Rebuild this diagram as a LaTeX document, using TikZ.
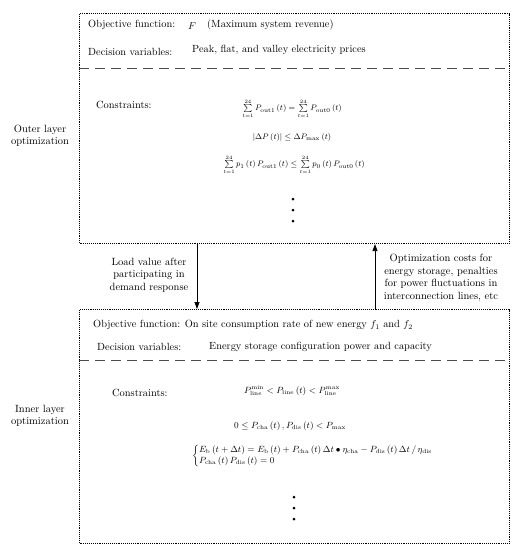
\documentclass[tikz,border=0pt]{standalone}
\usepackage{amsmath,amssymb}
\usetikzlibrary{arrows.meta}
\newcommand{\tsum}{\sum\limits_{\scriptscriptstyle t=1}^{\scriptscriptstyle 24}}
\begin{document}
\begin{tikzpicture}[x=1pt,y=-1pt,
  layerbox/.style={draw, line width=1.1pt, dash pattern=on 1pt off 0.9pt, inner sep=0pt, anchor=north west},
  sep/.style={draw=black!70, line width=1pt, dash pattern=on 10pt off 6pt},
  lbl/.style={inner sep=0pt, anchor=west, font=\fontsize{10.4}{12}\selectfont},
  eqn/.style={inner sep=0pt, font=\small},
  oeqn/.style={inner sep=0pt, font=\footnotesize},
  side/.style={inner sep=0pt, align=center, font=\fontsize{10.5}{12.5}\selectfont},
  flow/.style={-{Triangle[length=7pt,width=5pt]}, line width=0.8pt},
  dotmark/.style={circle, fill=black, inner sep=0pt, minimum size=3pt}]
\useasboundingbox (0,0) rectangle (519,550);
\node[layerbox, minimum width=430pt, minimum height=230pt] (outer) at (79,13) {};
\node[layerbox, minimum width=430pt, minimum height=234pt] (inner) at (79,309) {};
\coordinate (sepO) at (0,68);
\coordinate (sepI) at (0,360);
\draw[sep] (outer.west |- sepO) -- (outer.east |- sepO);
\draw[sep] (inner.west |- sepI) -- (inner.east |- sepI);
% outer layer content
\node[lbl] (ofun) at (88,25) {Objective function:};
\node[lbl] (oF) at (188,26) {$F$};
\node[lbl] (orev) at (207,25) {(Maximum system revenue)};
\node[lbl] (odec) at (88,52) {Decision variables:};
\node[lbl] (oprice) at (192,50) {Peak, flat, and valley electricity prices};
\node[lbl] (ocon) at (96,105) {Constraints:};
\node[oeqn] (oe1) at (292,109) {$\tsum P_{\mathrm{out1}}\left(t\right)=\tsum P_{\mathrm{out0}}\left(t\right)$};
\node[oeqn] (oe2) at (292,137) {$\left|\Delta P\left(t\right)\right|\le \Delta P_{\max}\left(t\right)$};
\node[oeqn] (oe3) at (294,165) {$\tsum p_{1}\left(t\right)P_{\mathrm{out1}}\left(t\right)\le\tsum p_{0}\left(t\right)P_{\mathrm{out0}}\left(t\right)$};
\node[dotmark] (od1) at (293,199) {};
\node[dotmark] (od2) at (293,210) {};
\node[dotmark] (od3) at (293,221) {};
% inner layer content
\node[lbl] (ifun) at (93,325) {Objective function: On site consumption rate of new energy $f_{1}$ and $f_{2}$};
\node[lbl] (idec) at (97,347) {Decision variables:};
\node[lbl] (icap) at (209,347) {Energy storage configuration power and capacity};
\node[lbl] (icon) at (112,393) {Constraints:};
\node[eqn] (ie1) at (292,391) {$P_{\mathrm{line}}^{\min}<P_{\mathrm{line}}\left(t\right)<P_{\mathrm{line}}^{\max}$};
\node[eqn] (ie2) at (290,426) {$0\le P_{\mathrm{cha}}\left(t\right),P_{\mathrm{dis}}\left(t\right)<P_{\max}$};
\node[eqn, anchor=west] (ie3) at (192,456) {$\left\{\begin{array}{@{}l@{}}
E_{\mathrm{b}}\left(t+\Delta t\right)=E_{\mathrm{b}}\left(t\right)+P_{\mathrm{cha}}\left(t\right)\Delta t\bullet\eta_{\mathrm{cha}}-P_{\mathrm{dis}}\left(t\right)\Delta t\,/\,\eta_{\mathrm{dis}}\\
P_{\mathrm{cha}}\left(t\right)P_{\mathrm{dis}}\left(t\right)=0
\end{array}\right.$};
\node[dotmark] (id1) at (294,497) {};
\node[dotmark] (id2) at (294,508) {};
\node[dotmark] (id3) at (294,519) {};
% side labels
\node[side] (olab) at (40,136) {Outer layer\\optimization};
\node[side] (ilab) at (40,416) {Inner layer\\optimization};
\node[side] (down) at (149,275) {Load value after\\participating in\\demand response};
\node[side] (up) at (441,278) {Optimization costs for\\energy storage, penalties\\for power fluctuations in\\interconnection lines, etc};
% connectors
\coordinate (xd) at (197,0);
\coordinate (xu) at (375,0);
\draw[flow] (outer.south -| xd) -- (inner.north -| xd);
\draw[flow] (inner.north -| xu) -- (outer.south -| xu);
\end{tikzpicture}
\end{document}
